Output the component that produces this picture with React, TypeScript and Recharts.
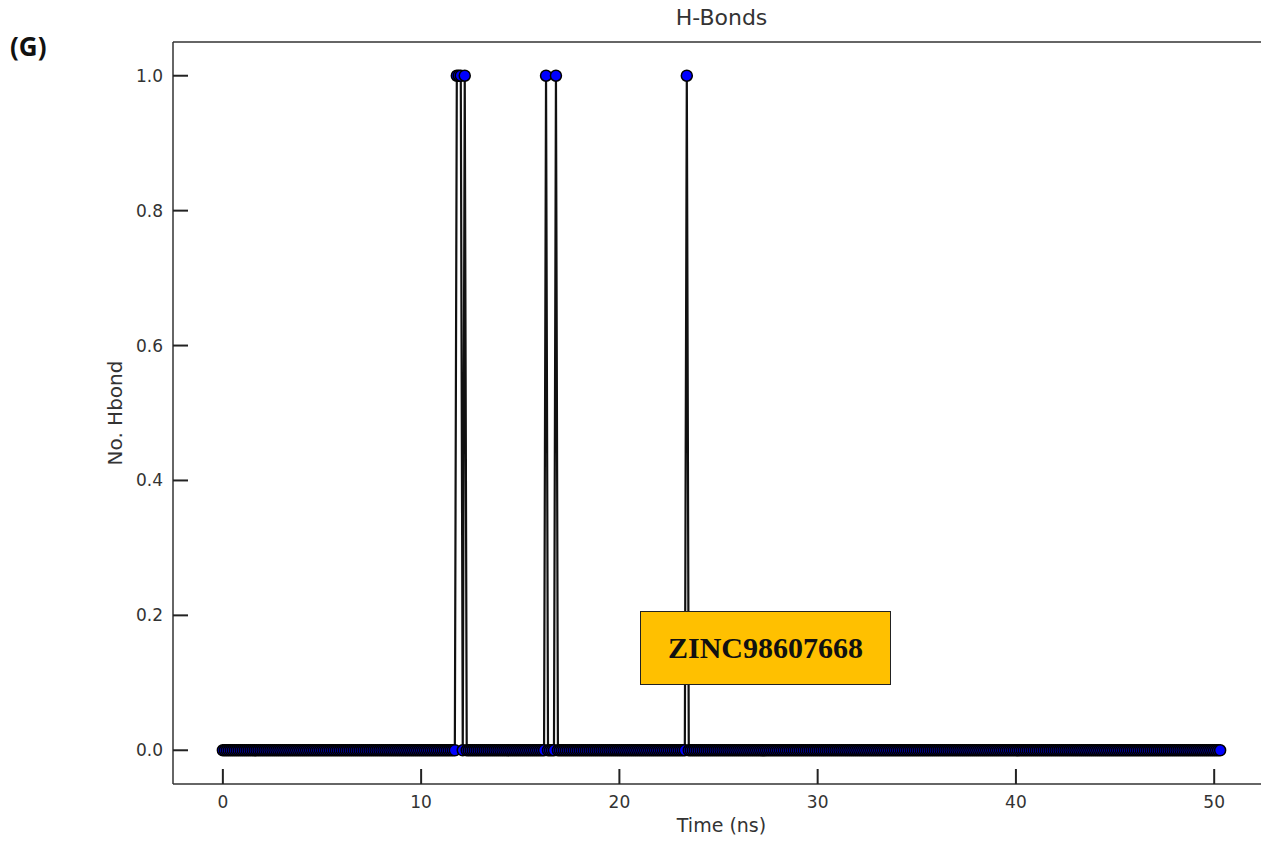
import { Line, LineChart, ReferenceLine, XAxis, YAxis } from "recharts";

// H-bond count over the trajectory: matplotlib-style frame, inward ticks,
// black line with blue markers, one frame every 0.1 ns.

const FRAME_STEP_NS = 0.1;

// No. of H-bonds per frame, 50 frames (5 ns) per row, 0.0 → 50.3 ns
const HBOND_ROWS: number[][] = [
  [0,0,0,0,0,0,0,0,0,0, 0,0,0,0,0,0,0,0,0,0, 0,0,0,0,0,0,0,0,0,0, 0,0,0,0,0,0,0,0,0,0, 0,0,0,0,0,0,0,0,0,0],
  [0,0,0,0,0,0,0,0,0,0, 0,0,0,0,0,0,0,0,0,0, 0,0,0,0,0,0,0,0,0,0, 0,0,0,0,0,0,0,0,0,0, 0,0,0,0,0,0,0,0,0,0],
  [0,0,0,0,0,0,0,0,0,0, 0,0,0,0,0,0,0,0,1,1, 1,0,1,0,0,0,0,0,0,0, 0,0,0,0,0,0,0,0,0,0, 0,0,0,0,0,0,0,0,0,0],
  [0,0,0,0,0,0,0,0,0,0, 0,0,0,1,0,0,0,0,1,0, 0,0,0,0,0,0,0,0,0,0, 0,0,0,0,0,0,0,0,0,0, 0,0,0,0,0,0,0,0,0,0],
  [0,0,0,0,0,0,0,0,0,0, 0,0,0,0,0,0,0,0,0,0, 0,0,0,0,0,0,0,0,0,0, 0,0,0,0,1,0,0,0,0,0, 0,0,0,0,0,0,0,0,0,0],
  [0,0,0,0,0,0,0,0,0,0, 0,0,0,0,0,0,0,0,0,0, 0,0,0,0,0,0,0,0,0,0, 0,0,0,0,0,0,0,0,0,0, 0,0,0,0,0,0,0,0,0,0],
  [0,0,0,0,0,0,0,0,0,0, 0,0,0,0,0,0,0,0,0,0, 0,0,0,0,0,0,0,0,0,0, 0,0,0,0,0,0,0,0,0,0, 0,0,0,0,0,0,0,0,0,0],
  [0,0,0,0,0,0,0,0,0,0, 0,0,0,0,0,0,0,0,0,0, 0,0,0,0,0,0,0,0,0,0, 0,0,0,0,0,0,0,0,0,0, 0,0,0,0,0,0,0,0,0,0],
  [0,0,0,0,0,0,0,0,0,0, 0,0,0,0,0,0,0,0,0,0, 0,0,0,0,0,0,0,0,0,0, 0,0,0,0,0,0,0,0,0,0, 0,0,0,0,0,0,0,0,0,0],
  [0,0,0,0,0,0,0,0,0,0, 0,0,0,0,0,0,0,0,0,0, 0,0,0,0,0,0,0,0,0,0, 0,0,0,0,0,0,0,0,0,0, 0,0,0,0,0,0,0,0,0,0],
  [0,0,0,0],
];

const X_TICKS = [0, 10, 20, 30, 40, 50];
const Y_TICKS = [0, 0.2, 0.4, 0.6, 0.8, 1.0];
const X_DOMAIN: [number, number] = [-2.515, 52.815];
const Y_DOMAIN: [number, number] = [-0.05, 1.05];

const data = HBOND_ROWS.flat().map((hb, i) => ({
  t: Math.round(i * FRAME_STEP_NS * 10) / 10,
  hb,
}));

const FONT = "'DejaVu Sans', sans-serif";
const INK = "#333";
const AXIS = { stroke: INK, strokeWidth: 1.5 } as const;
const TICK_TEXT = { fontFamily: FONT, fontSize: 17, fill: INK } as const;

// plot rectangle (chart margins + axis sizes below)
const MARGIN = { top: 42, right: 30, bottom: 11, left: 93 };
const Y_AXIS_W = 80;
const X_AXIS_H = 50;
const CHART_W = 1300;
const CHART_H = 845;
const PLOT_L = MARGIN.left + Y_AXIS_W;
const PLOT_T = MARGIN.top;
const PLOT_W = CHART_W - PLOT_L - MARGIN.right;
const PLOT_H = CHART_H - PLOT_T - MARGIN.bottom - X_AXIS_H;
const TICK_PX = 15;

const sx = (v: number) => PLOT_L + ((v - X_DOMAIN[0]) / (X_DOMAIN[1] - X_DOMAIN[0])) * PLOT_W;
const sy = (v: number) => PLOT_T + ((Y_DOMAIN[1] - v) / (Y_DOMAIN[1] - Y_DOMAIN[0])) * PLOT_H;

// matplotlib direction="in" tick marks, drawn over the chart
function InwardTicks() {
  const bottom = PLOT_T + PLOT_H;
  return (
    <svg
      width={CHART_W}
      height={CHART_H}
      style={{ position: "absolute", left: 0, top: 0, pointerEvents: "none" }}
    >
      {X_TICKS.map((v) => (
        <line key={`x${v}`} x1={sx(v)} x2={sx(v)} y1={bottom} y2={bottom - TICK_PX} stroke="#222" strokeWidth={2} />
      ))}
      {Y_TICKS.map((v) => (
        <line key={`y${v}`} x1={PLOT_L} x2={PLOT_L + TICK_PX} y1={sy(v)} y2={sy(v)} stroke="#222" strokeWidth={2} />
      ))}
    </svg>
  );
}

export default function App() {
  return (
    <div
      style={{
        position: "absolute",
        left: 0,
        top: 0,
        width: 1261,
        height: 845,
        overflow: "hidden",
        background: "#fff",
      }}
    >
      <div
        style={{
          position: "absolute",
          left: 10,
          top: 28,
          fontFamily: "'Open Sans', sans-serif",
          fontWeight: 700,
          fontSize: 26,
          color: "#111",
        }}
      >
        (G)
      </div>
      <div
        style={{
          position: "absolute",
          left: PLOT_L,
          width: PLOT_W,
          top: 5,
          textAlign: "center",
          fontFamily: FONT,
          fontSize: 22,
          color: INK,
        }}
      >
        H-Bonds
      </div>
      <LineChart width={CHART_W} height={CHART_H} data={data} margin={MARGIN}>
        <XAxis
          dataKey="t"
          type="number"
          domain={X_DOMAIN}
          ticks={X_TICKS}
          allowDataOverflow
          height={X_AXIS_H}
          tickSize={0}
          tickMargin={12}
          axisLine={AXIS}
          tickLine={false}
          tick={TICK_TEXT}
          label={{
            value: "Time (ns)",
            position: "insideBottom",
            offset: 2,
            style: { fontFamily: FONT, fontSize: 19, fill: INK },
          }}
        />
        <YAxis
          type="number"
          domain={Y_DOMAIN}
          ticks={Y_TICKS}
          allowDataOverflow
          width={Y_AXIS_W}
          tickSize={0}
          tickMargin={10}
          axisLine={AXIS}
          tickLine={false}
          tick={TICK_TEXT}
          tickFormatter={(v: number) => v.toFixed(1)}
          label={{
            value: "No. Hbond",
            angle: -90,
            position: "insideLeft",
            offset: 22,
            style: { fontFamily: FONT, fontSize: 20, fill: INK, textAnchor: "middle" },
          }}
        />
        <ReferenceLine y={Y_DOMAIN[1]} stroke={INK} strokeWidth={1.5} ifOverflow="visible" />
        <Line
          dataKey="hb"
          type="linear"
          stroke="#111"
          strokeWidth={2.2}
          dot={{ r: 5.5, fill: "#0000FF", stroke: "#000", strokeWidth: 1.5 }}
          isAnimationActive={false}
        />
      </LineChart>
      <InwardTicks />
      <div
        style={{
          position: "absolute",
          left: 640,
          top: 611,
          width: 251,
          height: 74,
          boxSizing: "border-box",
          background: "#FFC000",
          border: "1px solid #222",
          display: "flex",
          alignItems: "center",
          justifyContent: "center",
          fontFamily: "'Liberation Serif', 'Times New Roman', serif",
          fontWeight: 700,
          fontSize: 30,
          color: "#111",
        }}
      >
        ZINC98607668
      </div>
    </div>
  );
}
